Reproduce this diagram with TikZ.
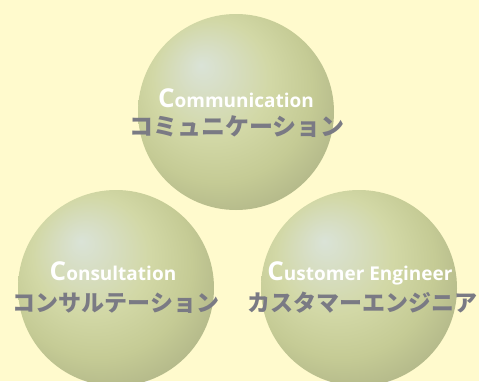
\documentclass[tikz,border=0pt]{standalone}
\usepackage{fontspec}
\setmainfont{Open Sans}
\newfontfamily\cjk{Noto Sans CJK JP}
\definecolor{bg}{RGB}{255,250,205}
\definecolor{jpgray}{RGB}{122,122,132}
\definecolor{shA}{RGB}{218,227,215}
\definecolor{shB}{RGB}{215,222,196}
\definecolor{shC}{RGB}{210,216,166}
\definecolor{shD}{RGB}{197,203,149}
\definecolor{shE}{RGB}{178,183,137}
\definecolor{shF}{RGB}{160,165,126}
\pgfdeclareradialshading{sphshade}{\pgfpoint{-9bp}{12bp}}{%
  color(0bp)=(shA); color(6bp)=(shB); color(15bp)=(shC); color(24bp)=(shD);
  color(32bp)=(shE); color(40bp)=(shF); color(50bp)=(shF)}
\tikzset{
  sphere/.style={circle, minimum size=196pt, inner sep=0pt, shading=sphshade},
  entxt/.style={text=white, font=\bfseries, inner sep=0pt, anchor=base},
  jptxt/.style={text=jpgray, font=\cjk\bfseries\fontsize{23}{23}\selectfont, inner sep=0pt},
}
\newcommand{\bigC}[1]{{\fontsize{26}{26}\selectfont C}{\fontsize{19}{19}\selectfont #1}}
\begin{document}
\begin{tikzpicture}[x=1pt,y=-1pt]
\fill[bg] (0,0) rectangle (479,381);
\useasboundingbox (0,0) rectangle (479,381);
\begin{scope}
\clip (0,0) rectangle (479,381);
\node[sphere] (top) at (236,112) {};
\node[sphere] (left) at (116,288) {};
\node[sphere] (right) at (359,288) {};
\end{scope}
\node[entxt] (t1) at (236,107) {\bigC{ommunication}};
\node[jptxt, font=\cjk\bfseries\fontsize{24}{24}\selectfont] (j1) at (237,127) {コミュニケーション};
\node[entxt] (t2) at (113,280) {\bigC{onsultation}};
\node[jptxt] (j2) at (116,303) {コンサルテーション};
\node[entxt] (t3) at (360,280) {\bigC{ustomer Engineer}};
\node[jptxt] (j3) at (362,303) {カスタマーエンジニア};
\end{tikzpicture}
\end{document}
